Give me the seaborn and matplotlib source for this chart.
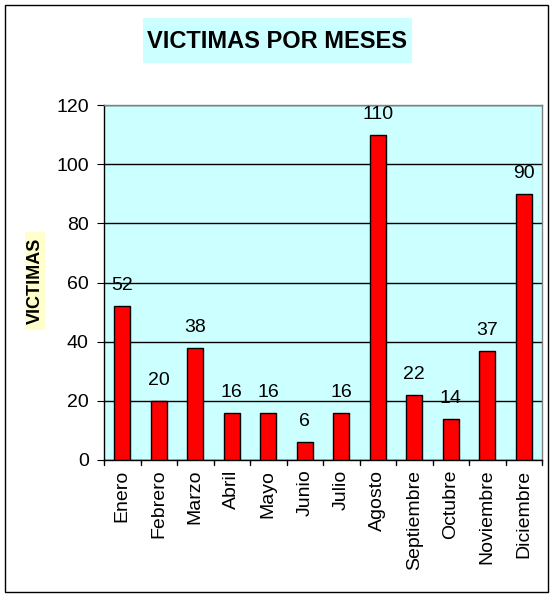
import matplotlib
matplotlib.use("Agg")
import matplotlib.pyplot as plt
import seaborn as sns
import pandas as pd
from matplotlib.patches import Rectangle

meses = ["Enero", "Febrero", "Marzo", "Abril", "Mayo", "Junio", "Julio",
         "Agosto", "Septiembre", "Octubre", "Noviembre", "Diciembre"]
victimas = [52, 20, 38, 16, 16, 6, 16, 110, 22, 14, 37, 90]

df = pd.DataFrame({"mes": meses, "victimas": victimas})

sns.set_style("white", {"text.color": "black", "xtick.color": "black",
                        "ytick.color": "black", "axes.labelcolor": "black"})
plt.rcParams["font.family"] = ["Liberation Sans", "DejaVu Sans"]

W, H = 560, 599


def box(x0, y0, x1, y1, **kw):
    # rectangle given in pixel coords from the top-left corner
    return Rectangle((x0 / W, 1 - y1 / H), (x1 - x0) / W, (y1 - y0) / H,
                     transform=fig.transFigure, **kw)


fig = plt.figure(figsize=(5.6, 5.99), dpi=100)
fig.patches.append(box(5, 5, 548, 592, fill=False, edgecolor="black", linewidth=1))
fig.patches.append(box(143, 18, 412, 63, facecolor="#ccffff", edgecolor="none"))
fig.patches.append(box(25, 232, 45, 330, facecolor="#ffffcc", edgecolor="none"))

ax = fig.add_axes([104 / W, 1 - 460 / H, 438 / W, 355 / H])
ax.set_facecolor("#ccffff")
sns.barplot(data=df, x="mes", y="victimas", color="red", edgecolor="black",
            linewidth=1, width=0.45, saturation=1, ax=ax, zorder=3)

ax.set_ylim(0, 120)
ax.set_yticks(range(0, 121, 20))
ax.set_xlim(-0.5, len(meses) - 0.5)
ax.yaxis.grid(True, color="black", linewidth=1, zorder=0)
ax.set_axisbelow(True)
for s in ax.spines.values():
    s.set_color("#808080")
    s.set_linewidth(1)
ax.spines["left"].set_color("black")
ax.spines["bottom"].set_color("black")

ax.tick_params(axis="y", labelsize=14, length=5, direction="out", left=True,
               color="black", labelcolor="black", pad=6)
ax.tick_params(axis="x", labelsize=14, length=0, rotation=90,
               labelcolor="black", pad=7)
# category separators on x axis
for i in range(len(meses) + 1):
    ax.plot([i - 0.5, i - 0.5], [0, -0.014], transform=ax.get_xaxis_transform(),
            color="black", linewidth=1, clip_on=False)

for i, v in enumerate(victimas):
    ax.text(i, v + 4, str(v), ha="center", va="bottom", fontsize=14, color="black")

ax.set_xlabel("")
ax.set_ylabel("")

fig.text(277 / W, 1 - 41 / H, "VICTIMAS POR MESES", ha="center", va="center",
         fontsize=17, fontweight="bold", color="black")
fig.text(35 / W, 1 - 281 / H, "VICTIMAS", ha="center", va="center", rotation=90,
         fontsize=13, fontweight="bold", color="black")

fig.savefig("out.png", dpi=100)
